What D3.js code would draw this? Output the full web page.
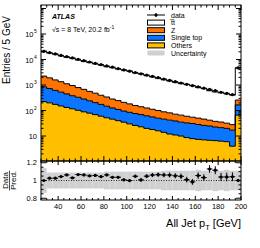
<!DOCTYPE html>
<html>
<head>
<meta charset="utf-8">
<script src="https://cdn.jsdelivr.net/npm/d3@7"></script>
<style>
  body { margin: 0; background: #fff; }
  svg { display: block; font-family: "Liberation Sans", Arial, Helvetica, sans-serif; }
</style>
</head>
<body>
<svg id="chart" width="260" height="248"></svg>
<script>
// Bin layout: 5 GeV bins from 25 to 200 GeV, last bin holds the overflow.
var binLow = d3.range(25, 200, 5);
var binWidth = 5;

var dataCounts = [21000, 18500, 16500, 14500, 13000, 11500, 10200, 9000, 8000, 7100,
                  6300, 5600, 5000, 4400, 3900, 3500, 3100, 2750, 2450, 2200,
                  1950, 1720, 1530, 1350, 1200, 1060, 940, 850, 750, 680,
                  600, 520, 470, 420, 4700];
var dataErr = [145, 136, 128, 120, 114, 107, 101, 95, 89, 84,
               79, 75, 71, 66, 62, 59, 56, 52, 49, 47,
               44, 41, 39, 37, 35, 33, 31, 29, 27, 26,
               24, 23, 22, 20, 69];
var ttbar = [18760, 16130, 14500, 12540, 11110, 10210, 8765, 7790, 7040, 6240,
             5640, 4930, 4540, 4000, 3660, 3320, 2800, 2590, 2210, 1960,
             1730, 1530, 1360, 1210, 1080, 990, 900, 755, 680, 560,
             500, 465, 420, 375, 4440];
var zjets = [1388, 1181, 968, 824, 675, 575, 463, 394, 322, 275,
             224, 191, 156, 135, 114, 97, 82, 72, 64, 56,
             50, 43, 39, 33, 31, 27, 24, 22, 20, 17,
             15, 14, 12, 11, 91];
var singleTop = [627, 524, 443, 374, 315, 263, 229, 193, 161, 135,
                 114, 96, 80, 70, 60, 55, 50, 46, 42, 38,
                 34, 32, 30, 28, 25, 24, 23, 21, 19, 18,
                 16, 15, 14, 13, 100];
var others = [224, 200, 174, 151, 132, 117, 102, 89, 79, 69,
              60, 52, 46, 40, 35, 30, 26, 23, 20, 18,
              16, 14, 12, 11, 10, 8.7, 7.9, 7.4, 7.1, 6.8,
              6.6, 6.3, 6.0, 4.0, 66];
// Relative uncertainty on the total prediction.
var relUnc = [0.14, 0.09, 0.09, 0.09, 0.09, 0.09, 0.09, 0.09, 0.09, 0.09,
              0.09, 0.10, 0.10, 0.10, 0.10, 0.10, 0.10, 0.10, 0.10, 0.10,
              0.10, 0.11, 0.11, 0.11, 0.11, 0.11, 0.11, 0.12, 0.11, 0.11,
              0.12, 0.11, 0.12, 0.11, 0.11];

var xTickLabels = [40, 60, 80, 100, 120, 140, 160, 180, 200];
var yTickPowers = [1, 2, 3, 4, 5];
var ratioTickLabels = [0.8, 1, 1.2];

var samples = [
    {key: 'others', label: 'Others', values: others, colour: '#ffbf00'},
    {key: 'singleTop', label: 'Single top', values: singleTop, colour: '#0c75ff'},
    {key: 'zjets', label: 'Z', values: zjets, colour: '#ff7300'},
    {key: 'ttbar', label: 't\u0305t', values: ttbar, colour: '#ffffff'}
];

var frame = {left: 41, right: 241, top: 5, mid: 161, bottom: 200};
var yMin = 1.05;

var svg = d3.select('#chart');

var x = d3.scaleLinear().domain([25, 200]).range([frame.left, frame.right]);
var y = d3.scaleLog().domain([yMin, 1.37e6]).range([frame.mid, frame.top]);
var yr = d3.scaleLinear().domain([0.78, 1.22]).range([frame.bottom, frame.mid]);

var defs = svg.append('defs');
defs.append('clipPath').attr('id', 'clipMain')
    .append('rect')
    .attr('x', frame.left).attr('y', frame.top)
    .attr('width', frame.right - frame.left).attr('height', frame.mid - frame.top);
defs.append('clipPath').attr('id', 'clipRatio')
    .append('rect')
    .attr('x', frame.left).attr('y', frame.mid)
    .attr('width', frame.right - frame.left).attr('height', frame.bottom - frame.mid);

// Stack the backgrounds.
var rows = binLow.map(function(b, i) {
    var row = {x0: b};
    samples.forEach(function(s) { row[s.key] = s.values[i]; });
    return row;
});
var stacked = d3.stack().keys(samples.map(function(s) { return s.key; }))(rows);

// Step points with a trailing point at the upper edge of the last bin.
function stepPoints(layer) {
    var pts = layer.map(function(p, i) { return {x: binLow[i], y0: p[0], y1: p[1]}; });
    var last = pts[pts.length - 1];
    pts.push({x: last.x + binWidth, y0: last.y0, y1: last.y1});
    return pts;
}

var area = d3.area().curve(d3.curveStepAfter)
    .x(function(d) { return x(d.x); })
    .y0(function(d) { return y(Math.max(d.y0, yMin)); })
    .y1(function(d) { return y(Math.max(d.y1, yMin)); });
var topLine = d3.line().curve(d3.curveStepAfter)
    .x(function(d) { return x(d.x); })
    .y(function(d) { return y(Math.max(d.y1, yMin)); });

var main = svg.append('g').attr('clip-path', 'url(#clipMain)');

stacked.forEach(function(layer, k) {
    main.append('path')
        .attr('d', area(stepPoints(layer)))
        .attr('fill', samples[k].colour);
});

// Uncertainty band around the total prediction.
var totals = binLow.map(function(b, i) {
    return ttbar[i] + zjets[i] + singleTop[i] + others[i];
});
var bandPts = totals.map(function(t, i) {
    return {x: binLow[i], y0: t * (1 - relUnc[i]), y1: t * (1 + relUnc[i])};
});
bandPts.push({x: 200, y0: bandPts[bandPts.length - 1].y0, y1: bandPts[bandPts.length - 1].y1});
main.append('path')
    .attr('d', area(bandPts))
    .attr('fill', '#d0d0d0');

stacked.forEach(function(layer) {
    main.append('path')
        .attr('d', topLine(stepPoints(layer)))
        .attr('fill', 'none')
        .attr('stroke', '#000')
        .attr('stroke-width', 1);
});

// Data points.
var dataG = svg.append('g').attr('clip-path', 'url(#clipMain)');
binLow.forEach(function(b, i) {
    var v = dataCounts[i], e = dataErr[i];
    dataG.append('line')
        .attr('x1', x(b)).attr('x2', x(b + binWidth))
        .attr('y1', y(v)).attr('y2', y(v))
        .attr('stroke', '#000').attr('stroke-width', 1);
    dataG.append('line')
        .attr('x1', x(b + binWidth / 2)).attr('x2', x(b + binWidth / 2))
        .attr('y1', y(v - e)).attr('y2', y(v + e))
        .attr('stroke', '#000').attr('stroke-width', 1);
    dataG.append('circle')
        .attr('cx', x(b + binWidth / 2)).attr('cy', y(v))
        .attr('r', 1.6).attr('fill', '#000');
});

// Ratio panel.
var ratioG = svg.append('g').attr('clip-path', 'url(#clipRatio)');
binLow.forEach(function(b, i) {
    ratioG.append('rect')
        .attr('x', x(b)).attr('width', x(b + binWidth) - x(b))
        .attr('y', yr(1 + relUnc[i]))
        .attr('height', yr(1 - relUnc[i]) - yr(1 + relUnc[i]))
        .attr('fill', '#d0d0d0');
});
ratioG.append('line')
    .attr('x1', frame.left).attr('x2', frame.right)
    .attr('y1', yr(1)).attr('y2', yr(1))
    .attr('stroke', '#000').attr('stroke-width', 0.8)
    .attr('stroke-dasharray', '1,1.5');
binLow.forEach(function(b, i) {
    var r = dataCounts[i] / totals[i];
    var re = dataErr[i] / totals[i];
    ratioG.append('line')
        .attr('x1', x(b)).attr('x2', x(b + binWidth))
        .attr('y1', yr(r)).attr('y2', yr(r))
        .attr('stroke', '#000').attr('stroke-width', 1);
    ratioG.append('line')
        .attr('x1', x(b + binWidth / 2)).attr('x2', x(b + binWidth / 2))
        .attr('y1', yr(r - re)).attr('y2', yr(r + re))
        .attr('stroke', '#000').attr('stroke-width', 1);
    ratioG.append('circle')
        .attr('cx', x(b + binWidth / 2)).attr('cy', yr(r))
        .attr('r', 1.6).attr('fill', '#000');
});

// Frames.
var axes = svg.append('g').attr('stroke', '#000').attr('stroke-width', 1).attr('fill', 'none');
axes.append('rect')
    .attr('x', frame.left).attr('y', frame.top)
    .attr('width', frame.right - frame.left).attr('height', frame.mid - frame.top);
axes.append('rect')
    .attr('x', frame.left).attr('y', frame.mid)
    .attr('width', frame.right - frame.left).attr('height', frame.bottom - frame.mid);

function tick(x1, y1, x2, y2) {
    axes.append('line').attr('x1', x1).attr('y1', y1).attr('x2', x2).attr('y2', y2);
}

// X ticks on both panels.
d3.range(25, 201, 5).forEach(function(v) {
    var major = v % 20 === 0;
    var px = x(v);
    var lenMain = major ? 5 : 2.5;
    var lenRatio = major ? 4 : 2;
    tick(px, frame.mid, px, frame.mid - lenMain);
    tick(px, frame.top, px, frame.top + lenMain);
    tick(px, frame.bottom, px, frame.bottom - lenRatio);
    tick(px, frame.mid, px, frame.mid + lenRatio);
});

// Log y ticks on the main panel.
d3.range(0, 7).forEach(function(p) {
    d3.range(1, 10).forEach(function(m) {
        var v = m * Math.pow(10, p);
        if (v < yMin || v > y.domain()[1]) return;
        var py = y(v);
        var len = m === 1 ? 5 : 2.5;
        tick(frame.left, py, frame.left + len, py);
        tick(frame.right, py, frame.right - len, py);
    });
});

// Ratio y ticks.
d3.range(0.8, 1.21, 0.05).forEach(function(v) {
    var major = Math.abs(v * 10 - Math.round(v * 10)) < 1e-6 && Math.round(v * 10) % 2 === 0;
    var py = yr(v);
    var len = major ? 5 : 2.5;
    tick(frame.left, py, frame.left + len, py);
    tick(frame.right, py, frame.right - len, py);
});

// Labels.
var labels = svg.append('g').attr('fill', '#000');

yTickPowers.forEach(function(p) {
    labels.append('text')
        .attr('x', p === 1 ? 37 : 33.5)
        .attr('y', y(Math.pow(10, p)) + 3)
        .attr('text-anchor', 'end')
        .attr('font-size', 7.5)
        .text('10');
    if (p > 1) {
        labels.append('text')
            .attr('x', 34)
            .attr('y', y(Math.pow(10, p)) - 1)
            .attr('font-size', 5)
            .text(p);
    }
});

ratioTickLabels.forEach(function(v) {
    labels.append('text')
        .attr('x', 37)
        .attr('y', yr(v) + 2.7)
        .attr('text-anchor', 'end')
        .attr('font-size', 7.5)
        .text(v === 1 ? '1' : v.toFixed(1));
});

xTickLabels.forEach(function(v) {
    labels.append('text')
        .attr('x', x(v))
        .attr('y', 209)
        .attr('text-anchor', 'middle')
        .attr('font-size', 7.5)
        .text(v);
});

// Axis titles.
var xTitle = labels.append('text')
    .attr('x', frame.right)
    .attr('y', 227)
    .attr('text-anchor', 'end')
    .attr('font-size', 11);
xTitle.append('tspan').text('All Jet p');
xTitle.append('tspan').attr('font-size', 7.5).attr('dy', 3).text('T');
xTitle.append('tspan').attr('dy', -3).text(' [GeV]');

labels.append('text')
    .attr('transform', 'translate(10,' + 50 + ') rotate(-90)')
    .attr('text-anchor', 'middle')
    .attr('font-size', 10)
    .text('Entries / 5 GeV');

var ratioTitle = labels.append('g')
    .attr('transform', 'translate(9.5,' + yr(1) + ') rotate(-90)');
ratioTitle.append('text')
    .attr('y', -1.2)
    .attr('text-anchor', 'middle')
    .attr('font-size', 8)
    .text('Data');
ratioTitle.append('line')
    .attr('x1', -10).attr('x2', 10)
    .attr('y1', 0).attr('y2', 0)
    .attr('stroke', '#000').attr('stroke-width', 0.7);
ratioTitle.append('text')
    .attr('y', 6.8)
    .attr('text-anchor', 'middle')
    .attr('font-size', 8)
    .text('Pred.');

// ATLAS label.
labels.append('text')
    .attr('x', 52).attr('y', 18.5)
    .attr('font-size', 7)
    .attr('font-weight', 'bold')
    .attr('font-style', 'italic')
    .text('ATLAS');
var lumi = labels.append('text')
    .attr('x', 52).attr('y', 31.5)
    .attr('font-size', 7);
lumi.append('tspan').text('\u221as = 8 TeV, 20.2 fb');
lumi.append('tspan').attr('font-size', 5).attr('dy', -3).text('-1');

// Legend.
var legendItems = [
    {label: 'data', type: 'data'},
    {label: 't\u0305t', type: 'box', colour: '#ffffff'},
    {label: 'Z', type: 'box', colour: '#ff7300'},
    {label: 'Single top', type: 'box', colour: '#0c75ff'},
    {label: 'Others', type: 'box', colour: '#ffbf00'},
    {label: 'Uncertainty', type: 'unc', colour: '#d0d0d0'}
];
var legend = svg.append('g').attr('transform', 'translate(147,15)');
legendItems.forEach(function(item, i) {
    var g = legend.append('g').attr('transform', 'translate(0,' + (i * 7.6) + ')');
    if (item.type === 'data') {
        g.append('line').attr('x1', 0).attr('x2', 18).attr('y1', 0).attr('y2', 0)
            .attr('stroke', '#000').attr('stroke-width', 1);
        g.append('line').attr('x1', 9).attr('x2', 9).attr('y1', -2).attr('y2', 2)
            .attr('stroke', '#000').attr('stroke-width', 1);
        g.append('circle').attr('cx', 9).attr('cy', 0).attr('r', 1.6).attr('fill', '#000');
    } else {
        g.append('rect').attr('x', 0.5).attr('y', -2.5).attr('width', 17).attr('height', 5)
            .attr('fill', item.colour)
            .attr('stroke', item.type === 'unc' ? 'none' : '#000')
            .attr('stroke-width', 1);
    }
    g.append('text').attr('x', 24).attr('y', 2.5)
        .attr('font-size', 7)
        .text(item.label);
});
</script>
</body>
</html>
